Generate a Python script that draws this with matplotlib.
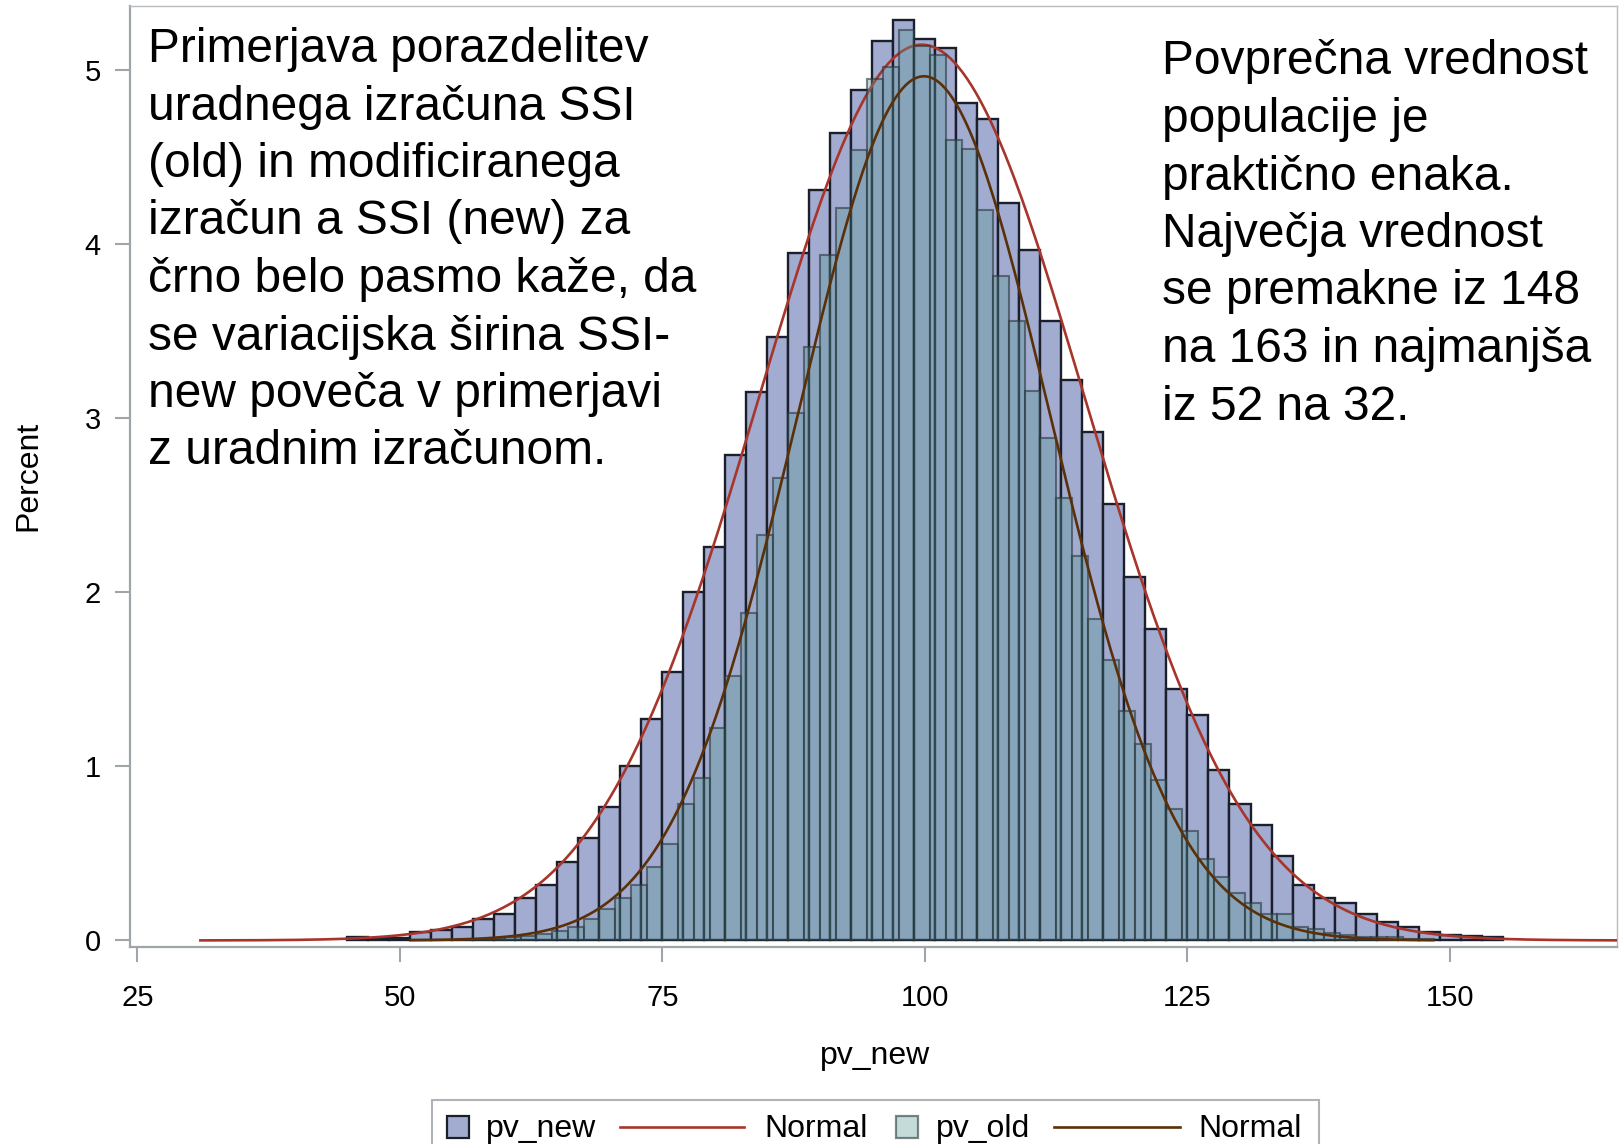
import numpy as np
import matplotlib
matplotlib.use("Agg")
import matplotlib.pyplot as plt
from matplotlib.patches import Rectangle
from matplotlib.lines import Line2D

plt.rcParams['font.family'] = ['Liberation Sans', 'DejaVu Sans']

# ---------------- data ----------------
new_start = 45.0
new_width = 2.0
pv_new_pct = [0.017, 0.015, 0.015, 0.048, 0.062, 0.075, 0.122, 0.152, 0.243, 0.318,
              0.448, 0.587, 0.765, 1.005, 1.275, 1.54, 2.00, 2.26, 2.79, 3.15,
              3.47, 3.95, 4.31, 4.64, 4.89, 5.17, 5.29, 5.18, 5.13, 4.81,
              4.72, 4.24, 3.97, 3.56, 3.22, 2.92, 2.51, 2.09, 1.79, 1.446,
              1.293, 0.981, 0.785, 0.665, 0.483, 0.318, 0.241, 0.213, 0.153, 0.107,
              0.077, 0.048, 0.033, 0.025, 0.021]

old_start = 51.0
old_width = 1.5
pv_old_pct = [0.002, 0.003, 0.004, 0.006, 0.009, 0.012, 0.018, 0.025, 0.038, 0.055,
              0.078, 0.122, 0.183, 0.243, 0.316, 0.42, 0.556, 0.782, 0.934, 1.218,
              1.52, 1.88, 2.33, 2.66, 3.03, 3.41, 3.94, 4.21, 4.54, 4.95,
              5.02, 5.23, 5.14, 5.09, 4.60, 4.55, 4.20, 3.82, 3.56, 3.16,
              2.89, 2.54, 2.21, 1.85, 1.61, 1.32, 1.13, 0.92, 0.753, 0.628,
              0.466, 0.362, 0.275, 0.214, 0.152, 0.152, 0.08, 0.063, 0.043, 0.034,
              0.018, 0.02, 0.02, 0.01, 0.006]

# fitted normal parameters (mean, sd) and curve ranges
new_mean, new_sd = 99.7, 15.5
old_mean, old_sd = 99.9, 12.05
new_curve_range = (31.0, 166.0)
old_curve_range = (51.05, 148.4)

xticks = [25, 50, 75, 100, 125, 150]
yticks = [0, 1, 2, 3, 4, 5]

left_text = ["Primerjava porazdelitev",
             "uradnega izračuna SSI",
             "(old) in modificiranega",
             "izračun a SSI (new) za",
             "črno belo pasmo kaže, da",
             "se variacijska širina SSI-",
             "new poveča v primerjavi",
             "z uradnim izračunom."]
right_text = ["Povprečna vrednost",
              "populacije je",
              "praktično enaka.",
              "Največja vrednost",
              "se premakne iz 148",
              "na 163 in najmanjša",
              "iz 52 na 32."]
legend_labels = ["pv_new", "Normal", "pv_old", "Normal"]

# ---------------- styles ----------------
W, H = 1620, 1144
c_new = (162/255, 171/255, 208/255)
c_new_edge = (0.10, 0.12, 0.17)
c_old = (0.35, 0.60, 0.58, 0.35)
c_old_edge = (0.16, 0.22, 0.24, 0.6)
c_red = '#A8352B'
c_brown = '#5A3008'
axis_grey = '#A0A5AA'

def fx(x):
    return x / W

def fy(y):
    return 1 - y / H

fig = plt.figure(figsize=(W / 100, H / 100), dpi=100)
ax = fig.add_axes([fx(130), fy(946.7), fx(1617) - fx(130), fy(6) - fy(946.7)])

new_left = new_start + new_width * np.arange(len(pv_new_pct))
old_left = old_start + old_width * np.arange(len(pv_old_pct))

ax.bar(new_left, pv_new_pct, width=new_width, align='edge', color=c_new,
       edgecolor=c_new_edge, linewidth=1.7, zorder=2)

xs = np.linspace(*new_curve_range, 600)
ys = new_width * 100 * np.exp(-0.5 * ((xs - new_mean) / new_sd) ** 2) / (new_sd * np.sqrt(2 * np.pi))
ax.plot(xs, ys, color=c_red, lw=1.9, zorder=3)

ax.bar(old_left, pv_old_pct, width=old_width, align='edge', color=c_old,
       edgecolor=c_old_edge, linewidth=1.5, zorder=4)

xo = np.linspace(*old_curve_range, 600)
yo = old_width * 100 * np.exp(-0.5 * ((xo - old_mean) / old_sd) ** 2) / (old_sd * np.sqrt(2 * np.pi))
ax.plot(xo, yo, color=c_brown, lw=1.9, zorder=5)

ax.set_xlim(24.3, 165.9)
ax.set_ylim(-0.036, 5.37)
ax.set_xticks(xticks)
ax.set_yticks(yticks)
ax.tick_params(axis='both', length=11, width=1.5, color=axis_grey, labelsize=21,
               labelcolor='black')
ax.tick_params(axis='y', pad=10)
ax.tick_params(axis='x', pad=16)
for s in ['left', 'bottom']:
    ax.spines[s].set_color(axis_grey)
    ax.spines[s].set_linewidth(1.6)
for s in ['top', 'right']:
    ax.spines[s].set_color('#B8BCC0')
    ax.spines[s].set_linewidth(1.0)

fig.text(fx(875), fy(1056), "pv_new", fontsize=23, ha='center', va='center')
fig.text(fx(28), fy(476), "Percent", fontsize=23, ha='center', va='center', rotation=90)

# annotations
for i, t in enumerate(left_text):
    fig.text(fx(148), fy(62 + 57.5 * i), t, fontsize=34.5, ha='left', va='baseline')
for i, t in enumerate(right_text):
    fig.text(fx(1162), fy(74.5 + 57.5 * i), t, fontsize=34.5, ha='left', va='baseline')

# legend (bottom, partly cut by the figure edge)
fig.patches.append(Rectangle((fx(432), fy(1170)), fx(1319) - fx(432), fy(1100) - fy(1170),
                             transform=fig.transFigure, facecolor='white',
                             edgecolor='#B0B4B8', linewidth=1.5))
ly = 1127
for x0, col, ec in [(447, c_new, c_new_edge), (896, c_old, c_old_edge)]:
    fig.patches.append(Rectangle((fx(x0), fy(ly + 11)), fx(22), 22 / H,
                                 transform=fig.transFigure, facecolor=col,
                                 edgecolor=ec, linewidth=1.6))
for (x0, x1), col in [((620, 744), c_red), ((1054, 1180), c_brown)]:
    fig.lines.append(Line2D([fx(x0), fx(x1)], [fy(ly), fy(ly)], transform=fig.transFigure,
                            color=col, lw=1.9))
for xl, lab in zip([486, 764, 936, 1198], legend_labels):
    fig.text(fx(xl), fy(ly + 2), lab, fontsize=23, ha='left', va='center')

fig.savefig("out.png", dpi=100)
